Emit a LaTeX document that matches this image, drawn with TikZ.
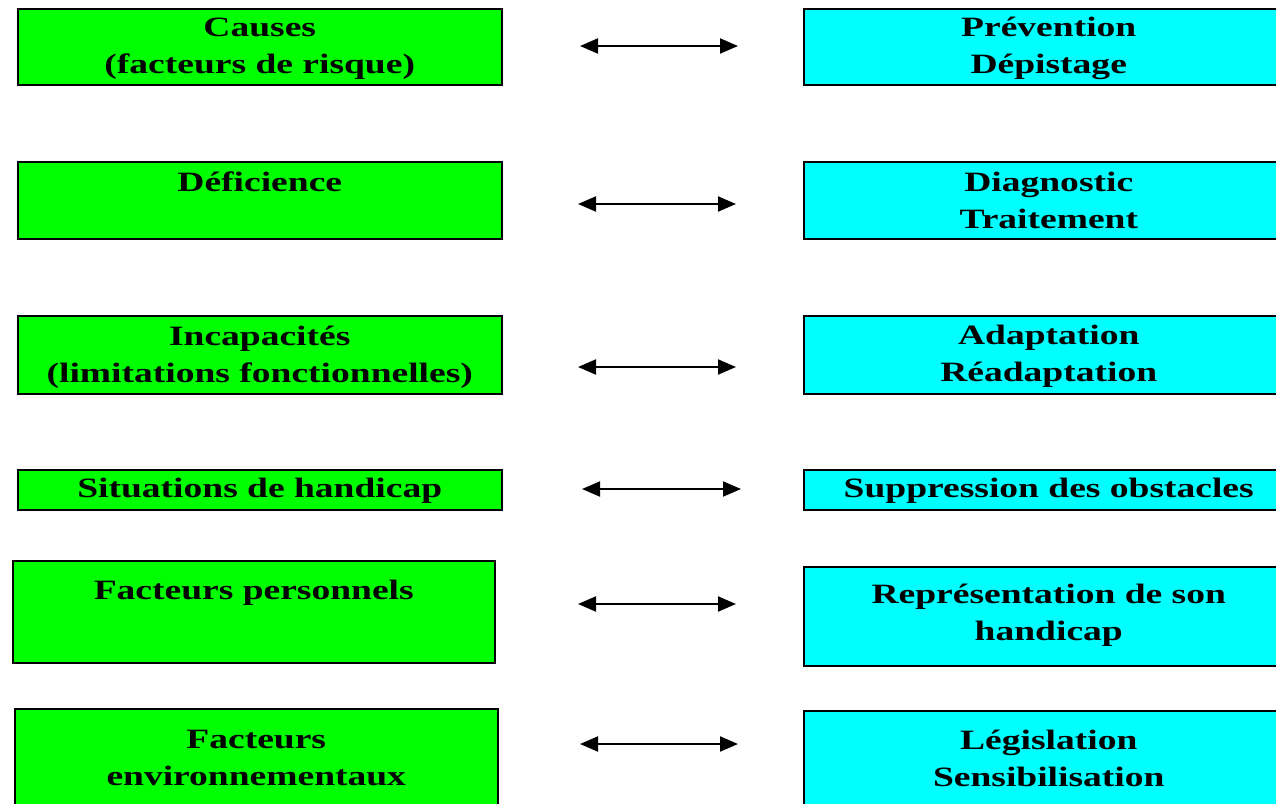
\documentclass[tikz,border=0pt]{standalone}
\usepackage{fontspec}
\setmainfont{Liberation Serif}[FakeStretch=1.34]
\usetikzlibrary{arrows.meta}
\tikzset{
  box/.style={draw=black, line width=1.5pt, anchor=north west, inner sep=0pt},
  gbox/.style={box, fill=boxgreen},
  cbox/.style={box, fill=boxcyan},
  txt/.style={anchor=base, inner sep=0pt, align=center,
    font=\fontsize{28}{37}\selectfont\bfseries},
  link/.style={line width=2pt, {Triangle[length=18pt,width=15pt]}-{Triangle[length=18pt,width=15pt]}}
}
\definecolor{boxgreen}{HTML}{00FF00}
\definecolor{boxcyan}{HTML}{00FFFF}
\begin{document}
\begin{tikzpicture}[x=1pt,y=-1pt]
\useasboundingbox (0,0) rectangle (1276,803);
% left column: stages
\node[gbox, minimum width=484pt, minimum height=76pt] (l1) at (17,8) {};
\node[gbox, minimum width=484pt, minimum height=77pt] (l2) at (17,161) {};
\node[gbox, minimum width=484pt, minimum height=78pt] (l3) at (17,315) {};
\node[gbox, minimum width=484pt, minimum height=40pt] (l4) at (17,469) {};
\node[gbox, minimum width=482pt, minimum height=102pt] (l5) at (12,560) {};
\node[gbox, minimum width=483pt, minimum height=110pt] (l6) at (14,708) {};
% right column: responses
\node[cbox, minimum width=490pt, minimum height=76pt] (r1) at (803,8) {};
\node[cbox, minimum width=490pt, minimum height=77pt] (r2) at (803,161) {};
\node[cbox, minimum width=490pt, minimum height=78pt] (r3) at (803,315) {};
\node[cbox, minimum width=490pt, minimum height=40pt] (r4) at (803,469) {};
\node[cbox, minimum width=490pt, minimum height=99pt] (r5) at (803,566) {};
\node[cbox, minimum width=490pt, minimum height=110pt] (r6) at (803,710) {};
% labels (base anchor sits on the last line)
\node[txt] (tl1) at ([yshift=-65pt]l1.north) {Causes\\(facteurs de risque)};
\node[txt] (tl2) at ([yshift=-30pt]l2.north) {Déficience};
\node[txt] (tl3) at ([yshift=-67pt]l3.north) {Incapacités\\(limitations fonctionnelles)};
\node[txt] (tl4) at ([yshift=-28pt]l4.north) {Situations de handicap};
\node[txt] (tl5) at ([yshift=-39pt]l5.north) {Facteurs personnels};
\node[txt] (tl6) at ([yshift=-77pt]l6.north) {Facteurs\\environnementaux};
\node[txt] (tr1) at ([yshift=-65pt]r1.north) {Prévention\\Dépistage};
\node[txt] (tr2) at ([yshift=-67pt]r2.north) {Diagnostic\\Traitement};
\node[txt] (tr3) at ([yshift=-66pt]r3.north) {Adaptation\\Réadaptation};
\node[txt] (tr4) at ([yshift=-28pt]r4.north) {Suppression des obstacles};
\node[txt] (tr5) at ([yshift=-74pt]r5.north) {Représentation de son\\handicap};
\node[txt] (tr6) at ([yshift=-76pt]r6.north) {Législation\\Sensibilisation};
% arrow ends
\coordinate (a1) at (580,46);  \coordinate (b1) at (738,46);
\coordinate (a2) at (578,204); \coordinate (b2) at (736,204);
\coordinate (a3) at (578,367); \coordinate (b3) at (736,367);
\coordinate (a4) at (582,489); \coordinate (b4) at (741,489);
\coordinate (a5) at (578,604); \coordinate (b5) at (736,604);
\coordinate (a6) at (580,744); \coordinate (b6) at (738,744);
\foreach \i in {1,...,6} \draw[link] (a\i) -- (b\i);
\end{tikzpicture}
\end{document}
